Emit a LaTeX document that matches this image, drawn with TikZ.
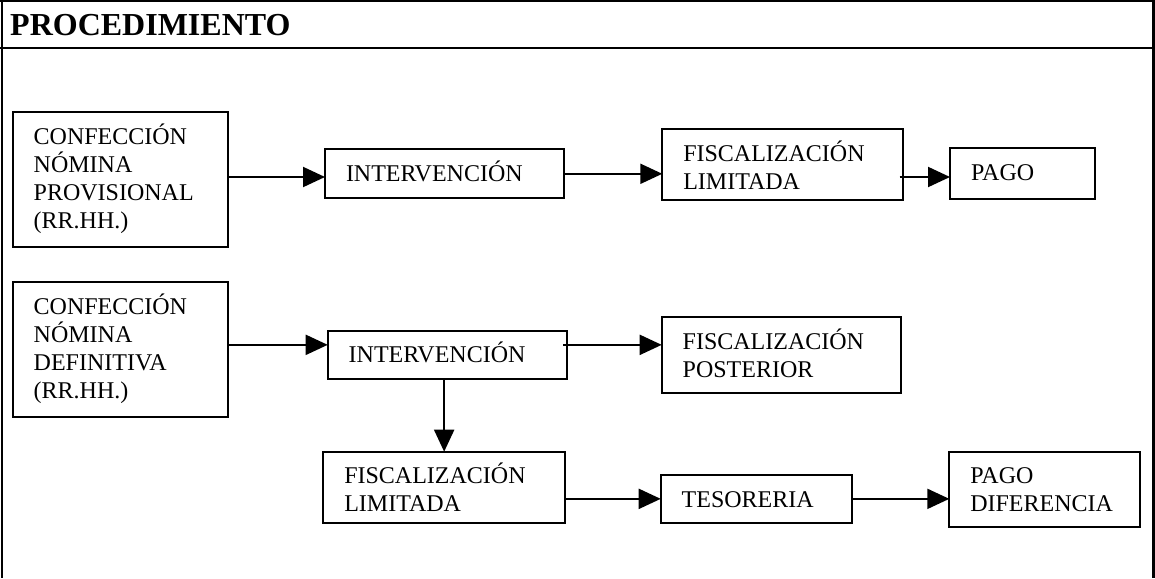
\documentclass[tikz,border=0pt]{standalone}
\usepackage{fontspec}
\setmainfont{Liberation Serif}
\usetikzlibrary{arrows.meta}

\begin{document}
\begin{tikzpicture}[x=1pt, y=-1pt,
    frame/.style = {line width=2.5pt},
    box/.style = {draw, line width=2pt, anchor=north west, outer sep=0pt,
                  inner xsep=21pt, inner ysep=0pt, align=left, text height=32pt,
                  font=\fontsize{24}{28}\selectfont},
    arr/.style = {line width=2pt, -{Triangle[length=22pt, width=20pt]}}]
    \useasboundingbox (0,0) rectangle (1155,578);

    % frame and header
    \draw[frame] (0,1.2) -- (1155,1.2);
    \draw[frame] (2,0) -- (2,578);
    \draw[frame] (1153.5,0) -- (1153.5,578);
    \draw[frame] (0,48) -- (1155,48);
    \node[anchor=base west, inner sep=0pt, font=\bfseries\fontsize{32}{36}\selectfont] (title) at (10,36) {PROCEDIMIENTO};

    % first row
    \node[box, text width=173.6pt, text depth=102.4pt] (nomprov) at (12.7,112.3) {CONFECCIÓN\\NÓMINA\\PROVISIONAL\\(RR.HH.)};
    \node[box, text width=197pt, text depth=17pt] (interv1) at (325,149.3) {INTERVENCIÓN};
    \node[box, text width=198.4pt, text depth=39pt] (fislim1) at (662.3,129) {FISCALIZACIÓN\\LIMITADA};
    \node[box, text width=103pt, text depth=18.4pt] (pago) at (950,148.3) {PAGO};

    % second row
    \node[box, text width=173.6pt, text depth=102.4pt] (nomdef) at (12.7,282.3) {CONFECCIÓN\\NÓMINA\\DEFINITIVA\\(RR.HH.)};
    \node[box, text width=197pt, text depth=16.3pt] (interv2) at (327.7,330.7) {INTERVENCIÓN};
    \node[box, text width=197.3pt, text depth=43.4pt] (fispost) at (661.7,317.3) {FISCALIZACIÓN\\POSTERIOR};

    % third row
    \node[box, text width=199.7pt, text depth=39pt] (fislim2) at (323.3,451.7) {FISCALIZACIÓN\\LIMITADA};
    \node[box, text width=149pt, text depth=15.7pt] (tesor) at (660.7,475) {TESORERIA};
    \node[box, text width=148.7pt, text depth=43.6pt] (pagodif) at (949.3,451.7) {PAGO\\DIFERENCIA};

    \draw[arr] ([yshift=2.5pt]nomprov.east) -- ([yshift=2.5pt]nomprov.east -| interv1.west);
    \draw[arr] (interv1.east) -- (interv1.east -| fislim1.west);
    \draw[arr, shorten <=-3pt] ([yshift=-3.5pt]pago.west -| fislim1.east) -- ([yshift=-3.5pt]pago.west);

    \draw[arr] ([yshift=10pt]interv2.west -| nomdef.east) -- ([yshift=10pt]interv2.west);
    \draw[arr, shorten <=-3.4pt] ([yshift=10pt]interv2.east) -- ([yshift=10pt]interv2.east -| fispost.west);
    \draw[arr] (fislim2.north |- interv2.south) -- (fislim2.north);

    \draw[arr] (tesor.west -| fislim2.east) -- (tesor.west);
    \draw[arr] (tesor.east) -- (tesor.east -| pagodif.west);

\end{tikzpicture}
\end{document}
